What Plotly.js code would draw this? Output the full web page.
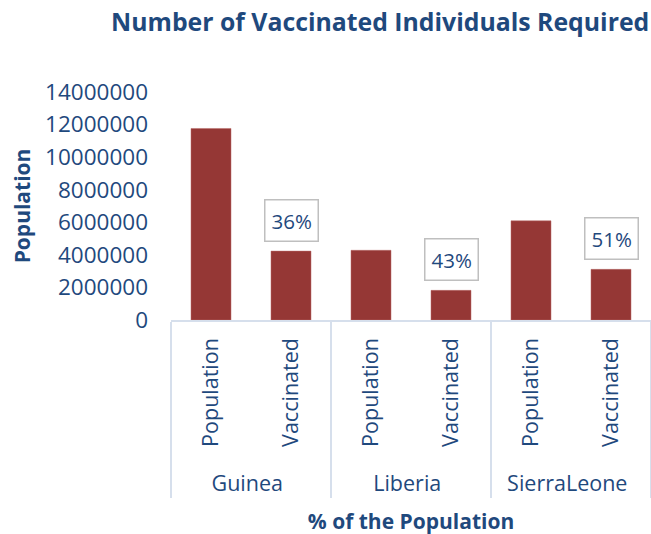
<!DOCTYPE html>
<html>
<head>
<meta charset="utf-8">
<script src="https://cdn.plot.ly/plotly-3.0.1.min.js"></script>
<style>html,body{margin:0;padding:0;background:#fff;}#chart{width:651px;height:534px;}</style>
</head>
<body>
<div id="chart"></div>
<script>
const countries = ['Guinea', 'Guinea', 'Liberia', 'Liberia', 'SierraLeone', 'SierraLeone'];
const groups = ['Population', 'Vaccinated', 'Population', 'Vaccinated', 'Population', 'Vaccinated'];
const values = [11760000, 4230000, 4280000, 1820000, 6090000, 3110000];
const percentCountries = ['Guinea', 'Liberia', 'SierraLeone'];
const percentValues = [4230000, 1820000, 3110000];
const percentLabels = ['36%', '43%', '51%'];

const textColor = '#1F497D';
const fontFam = '"Open Sans", "Noto Sans", sans-serif';

// leading non-breaking spaces add room below the rotated inner labels
const innerLabels = groups.map(g => '\u00a0\u00a0' + g);

const trace = {
  type: 'bar',
  x: [countries, innerLabels],
  y: values,
  marker: {color: '#953735', line: {color: '#B86B69', width: 0.5}},
  hoverinfo: 'none'
};

const layout = {
  width: 651,
  height: 534,
  margin: {l: 171, r: 0, t: 92, b: 214},
  paper_bgcolor: '#ffffff',
  plot_bgcolor: '#ffffff',
  showlegend: false,
  bargap: 0.5,
  font: {family: fontFam, color: textColor, size: 20},
  title: {
    text: '<b>Number of Vaccinated Individuals Required</b>',
    font: {family: fontFam, size: 24.8, color: textColor},
    x: 0.584, xanchor: 'center',
    xref: 'container', yref: 'container',
    y: 0.958, yanchor: 'middle'
  },
  xaxis: {
    type: 'multicategory',
    tickangle: -90,
    tickfont: {family: fontFam, size: 21.5, color: textColor},
    ticklabelstandoff: 8,
    showline: true,
    linecolor: '#D6DFEC',
    linewidth: 1.5,
    showdividers: true,
    dividercolor: '#D6DFEC',
    dividerwidth: 1.5,
    ticks: '',
    showgrid: false,
    title: {text: '<b>% of the Population</b>', font: {family: fontFam, size: 21, color: textColor}, standoff: 18}
  },
  yaxis: {
    range: [0, 14000000],
    dtick: 2000000,
    tick0: 0,
    tickformat: 'd',
    showgrid: false,
    zeroline: false,
    showline: false,
    ticks: '',
    ticklabelstandoff: 22,
    tickfont: {family: fontFam, size: 22.5, color: textColor},
    title: {text: '<b>Population</b>', font: {family: fontFam, size: 21, color: textColor}, standoff: 8}
  },
  annotations: percentCountries.map((c, i) => ({
    x: 2 * i + 1,
    y: percentValues[i],
    xref: 'x', yref: 'y',
    text: percentLabels[i],
    showarrow: false,
    yanchor: 'bottom',
    yshift: 9,
    bgcolor: '#ffffff',
    bordercolor: '#BFBFBF',
    borderwidth: 1.5,
    borderpad: 6,
    font: {family: fontFam, size: 20.5, color: textColor}
  }))
};

Plotly.newPlot('chart', [trace], layout, {displayModeBar: false, staticPlot: true});
</script>
</body>
</html>
